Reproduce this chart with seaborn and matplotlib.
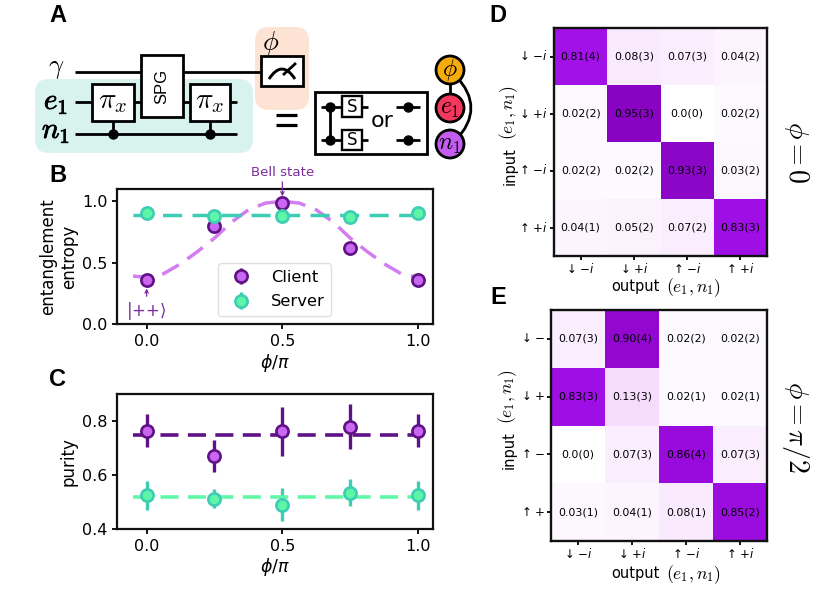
import numpy as np
import pandas as pd
import seaborn as sns
import matplotlib
matplotlib.use("Agg")
import matplotlib.pyplot as plt
from matplotlib import patches as mp
from matplotlib import patheffects as pe
from matplotlib.path import Path
from matplotlib.colors import LinearSegmentedColormap

# ---------- data ----------
phi = [0.0, 0.25, 0.5, 0.75, 1.0]
entropy_client = [0.36, 0.80, 0.99, 0.62, 0.36]
entropy_client_err = [0.01, 0.01, 0.01, 0.01, 0.01]
entropy_server = [0.905, 0.88, 0.88, 0.875, 0.905]
entropy_server_err = [0.01, 0.01, 0.01, 0.01, 0.01]
fit_x = [-0.05, 0.0, 0.0625, 0.125, 0.1875, 0.25, 0.3125, 0.375, 0.4375, 0.5,
         0.5625, 0.625, 0.6875, 0.75, 0.8125, 0.875, 0.9375, 1.0]
fit_client = [0.39, 0.38, 0.41, 0.49, 0.59, 0.70, 0.83, 0.93, 0.985, 1.0,
              0.985, 0.93, 0.83, 0.70, 0.59, 0.49, 0.41, 0.38]
fit_server = [0.885] * 18

purity_client = [0.763, 0.67, 0.76, 0.778, 0.763]
purity_client_err = [0.062, 0.06, 0.089, 0.084, 0.062]
purity_server = [0.524, 0.512, 0.49, 0.534, 0.524]
purity_server_err = [0.054, 0.036, 0.06, 0.05, 0.054]
purity_fit_x = [-0.05, 1.0]
purity_fit_client = [0.747, 0.747]
purity_fit_server = [0.517, 0.517]

out_ticks = ["↓ $-i$", "↓ $+i$", "↑ $-i$", "↑ $+i$"]
d_in_ticks = ["↓ $-i$", "↓ $+i$", "↑ $-i$", "↑ $+i$"]
e_in_ticks = ["↓ $-$", "↓ $+$", "↑ $-$", "↑ $+$"]
d_values = [[0.81, 0.08, 0.07, 0.04],
            [0.02, 0.95, 0.00, 0.02],
            [0.02, 0.02, 0.93, 0.03],
            [0.04, 0.05, 0.07, 0.83]]
d_labels = [["0.81(4)", "0.08(3)", "0.07(3)", "0.04(2)"],
            ["0.02(2)", "0.95(3)", "0.0(0)", "0.02(2)"],
            ["0.02(2)", "0.02(2)", "0.93(3)", "0.03(2)"],
            ["0.04(1)", "0.05(2)", "0.07(2)", "0.83(3)"]]
e_values = [[0.07, 0.90, 0.02, 0.02],
            [0.83, 0.13, 0.02, 0.02],
            [0.00, 0.07, 0.86, 0.07],
            [0.03, 0.04, 0.08, 0.85]]
e_labels = [["0.07(3)", "0.90(4)", "0.02(2)", "0.02(2)"],
            ["0.83(3)", "0.13(3)", "0.02(1)", "0.02(1)"],
            ["0.0(0)", "0.07(3)", "0.86(4)", "0.07(3)"],
            ["0.03(1)", "0.04(1)", "0.08(1)", "0.85(2)"]]

# ---------- style ----------
sns.set_style("ticks")
plt.rcParams.update({"font.family": ["DejaVu Sans"], "axes.linewidth": 1.6,
                     "xtick.major.width": 1.3, "ytick.major.width": 1.3,
                     "xtick.major.size": 3.5, "ytick.major.size": 3.5,
                     "xtick.color": "black", "ytick.color": "black",
                     "axes.edgecolor": "#111111", "text.color": "black",
                     "axes.labelcolor": "black"})
W, H = 831, 591
fig = plt.figure(figsize=(W / 100, H / 100), dpi=100)

C_FACE, C_EDGE, C_LINE = "#C966F2", "#5F1185", "#D27DF0"
S_FACE, S_EDGE, S_LINE = "#5FF5A6", "#3CCDB4", "#62F8A8"
PURPLE = "#7B2D9E"


def place(left, top, right, bottom, **kw):
    return fig.add_axes([left / W, 1 - bottom / H, (right - left) / W, (bottom - top) / H], **kw)


# ---------- schematic overlay (pixel coordinates) ----------
bg = fig.add_axes([0, 0, 1, 1], zorder=0)
bg.set_xlim(0, W)
bg.set_ylim(H, 0)
bg.axis("off")


def rbox(x0, y0, x1, y1, color, r=14):
    bg.add_patch(mp.FancyBboxPatch((x0 + r, y0 + r), x1 - x0 - 2 * r, y1 - y0 - 2 * r,
                                   boxstyle=f"round,pad={r},rounding_size={r}", fc=color, ec="none", zorder=1))


def line(xs, ys, lw=2.0, z=2):
    bg.plot(xs, ys, color="black", lw=lw, solid_capstyle="butt", zorder=z)


def box(x0, y0, x1, y1, lw=2.0, z=3):
    bg.add_patch(mp.Rectangle((x0, y0), x1 - x0, y1 - y0, fc="white", ec="black", lw=lw, zorder=z))


def dot(x, y, ms=7.5):
    bg.plot([x], [y], "o", color="black", ms=ms, mew=0, zorder=4)


def mtext(x, y, s, size=17, bold=False, **kw):
    t = bg.text(x, y, s, fontsize=size, ha="center", va="center", math_fontfamily="cm", zorder=6, **kw)
    if bold:
        t.set_path_effects([pe.withStroke(linewidth=0.6, foreground="black")])
    return t


rbox(35, 79, 253, 153, "#D8F3EE")
rbox(255, 27, 309, 110, "#FDE3D3")
line([75, 260], [71.5, 71.5])
line([75, 237], [102, 102])
line([75, 237], [133.5, 133.5])
for x0, x1 in [(92, 134), (190, 230)]:
    xc = (x0 + x1) / 2
    line([xc, xc], [121, 133.5])
    dot(xc, 133.5)
    box(x0, 84, x1, 121)
    mtext(xc, 101, r"$\pi_x$", 21)
box(141, 55, 183, 117)
bg.text(162, 86, "SPG", rotation=90, fontsize=12, family="Liberation Sans", ha="center", va="center", zorder=6)
box(261, 56, 303, 86)
bg.add_patch(mp.PathPatch(Path([(269, 79), (282, 59), (295, 79)], [Path.MOVETO, Path.CURVE3, Path.CURVE3]),
                          fc="none", ec="black", lw=2.1, zorder=5))
line([283, 296], [75, 63], z=5)
mtext(271, 43, r"$\phi$", 19)
mtext(56, 68, r"$\gamma$", 19)
mtext(56, 102, r"$e_1$", 21, bold=True)
mtext(56, 131, r"$n_1$", 21, bold=True)
line([276, 297], [114.5, 114.5], lw=2.3)
line([276, 297], [125, 125], lw=2.3)
box(315, 92, 427, 154, lw=2.0)
line([330, 330], [107, 140], z=4)
for y, (t, b) in zip([107, 140], [(96, 117), (130, 150)]):
    line([321, 368], [y, y], z=4)
    dot(330, y)
    box(342, t, 362, b, lw=1.7, z=5)
    bg.text(352, (t + b) / 2, "S", fontsize=12, ha="center", va="center", zorder=6)
    line([396, 420], [y, y], z=4)
    dot(408, y)
bg.text(382, 121, "or", fontsize=16, ha="center", va="center", zorder=6)
bg.add_patch(mp.PathPatch(Path([(455, 75), (487, 108), (455, 141)], [Path.MOVETO, Path.CURVE3, Path.CURVE3]),
                          fc="none", ec="black", lw=2.0, zorder=3))
line([450, 450], [70, 108], z=3)
for yc, col, lab in [(70, "#F8AC0C", r"$\phi$"), (108, "#F5375E", r"$e_1$"), (144, "#C45CF0", r"$n_1$")]:
    bg.add_patch(mp.Ellipse((450, yc), 28, 28, fc=col, ec="black", lw=2.0, zorder=4))
    mtext(450, yc, lab, 17)
for s, x, y in [("A", 58, 16), ("B", 58, 176), ("C", 58, 380), ("D", 498, 16), ("E", 498, 297)]:
    bg.text(x, y, s, fontsize=17, fontweight="bold", family="Liberation Sans", ha="center", va="center", zorder=6)


# ---------- line panels ----------
def points(ax, y, yerr, face, edge, ecolor, z=5, label=None):
    return ax.errorbar(phi, y, yerr=yerr, fmt="o", ms=8.8, mfc=face, mec=edge, mew=1.9, ecolor=ecolor,
                       elinewidth=2.4, capsize=0, zorder=z, label=label)


axb = place(117.3, 189, 433.3, 324)
sns.lineplot(x=fit_x, y=fit_client, ax=axb, color=C_LINE, lw=2.5, linestyle=(0, (5.5, 3)), errorbar=None, zorder=2)
sns.lineplot(x=fit_x, y=fit_server, ax=axb, color=S_EDGE, lw=2.5, linestyle=(0, (5.5, 3)), errorbar=None, zorder=3)
h1 = points(axb, entropy_client, entropy_client_err, C_FACE, C_EDGE, C_EDGE, 5, "Client")
h2 = points(axb, entropy_server, entropy_server_err, S_FACE, S_EDGE, S_EDGE, 6, "Server")
axb.set_xlim(-0.108, 1.056)
axb.set_ylim(0, 1.1)
axb.set_yticks([0, 0.5, 1.0])
axb.set_xticks([0, 0.5, 1.0])
axb.tick_params(labelsize=11.5)
axb.set_xlabel(r"$\phi/\pi$", fontsize=12.5, labelpad=2)
axb.set_ylabel("entanglement\nentropy", fontsize=12, labelpad=3, linespacing=1.2)
leg = axb.legend(handles=[h1, h2], loc="lower left", bbox_to_anchor=(0.318, 0.06), borderaxespad=0, fontsize=11.8,
                 frameon=True, framealpha=0.85, edgecolor="#D5DEDC", fancybox=True, handletextpad=0.85,
                 labelspacing=0.6, borderpad=0.4)
leg.set_zorder(4)
axb.annotate("Bell state", xy=(0.5, 1.04), xytext=(0.5, 1.185), color=PURPLE, fontsize=9.6, ha="center", va="bottom",
             annotation_clip=False, arrowprops=dict(arrowstyle="->", color=PURPLE, lw=0.9, shrinkA=0, shrinkB=0,
                                                    mutation_scale=6))
axb.annotate(r"$|{+}{+}\rangle$", xy=(0.0, 0.29), xytext=(0.0, 0.02), color=PURPLE, fontsize=12, ha="center",
             va="bottom", math_fontfamily="dejavusans",
             arrowprops=dict(arrowstyle="->", color=PURPLE, lw=0.9, shrinkA=0, shrinkB=0, mutation_scale=6))

axc = place(117.3, 394, 433.3, 529)
sns.lineplot(x=purity_fit_x, y=purity_fit_client, ax=axc, color=C_EDGE, lw=2.6, linestyle=(0, (5, 2.6)),
             errorbar=None, zorder=4)
sns.lineplot(x=purity_fit_x, y=purity_fit_server, ax=axc, color=S_LINE, lw=2.6, linestyle=(0, (5, 2.6)),
             errorbar=None, zorder=4)
points(axc, purity_client, purity_client_err, C_FACE, C_EDGE, C_EDGE, 3)
points(axc, purity_server, purity_server_err, S_FACE, S_EDGE, S_EDGE, 3)
for art in axc.lines:
    if art.get_marker() == "o":
        art.set_zorder(5)
axc.set_xlim(-0.108, 1.056)
axc.set_ylim(0.4, 0.898)
axc.set_yticks([0.4, 0.6, 0.8])
axc.set_xticks([0, 0.5, 1.0])
axc.tick_params(labelsize=11.5)
axc.set_xlabel(r"$\phi/\pi$", fontsize=12.5, labelpad=2)
axc.set_ylabel("purity", fontsize=12, labelpad=3)

# ---------- heatmaps ----------
cmap = LinearSegmentedColormap.from_list("wp", [(0, "#FFFFFF"), (0.13, "#F5DCFC"), (0.82, "#A10FE8"), (1, "#7F00B5")])


def heat(ax, values, labels, yticks):
    sns.heatmap(np.array(values), ax=ax, cmap=cmap, vmin=0, vmax=1, cbar=False, annot=np.array(labels), fmt="",
                annot_kws={"fontsize": 7.9, "color": "black"}, xticklabels=out_ticks, yticklabels=yticks)
    for s in ax.spines.values():
        s.set_visible(True)
        s.set_linewidth(1.7)
    ax.tick_params(axis="both", labelsize=8.5, length=3, width=1.3, pad=1.5, rotation=0)
    ax.set_xlabel("")
    ax.set_ylabel("")


heat(place(554, 28, 767, 256), d_values, d_labels, d_in_ticks)
heat(place(551, 310, 767, 541), e_values, e_labels, e_in_ticks)

for yl in (286.5, 573.5):
    bg.text(611, yl, "output", fontsize=10.5, ha="left", va="center")
    bg.text(666, yl + 1, r"$(e_1, n_1)$", fontsize=12.6, math_fontfamily="cm", ha="left", va="center")
for xl, yin, ymath in [(510, 166, 113), (509, 450, 397)]:
    bg.text(xl, yin, "input", fontsize=10.5, rotation=90, ha="center", va="center")
    bg.text(xl - 1, ymath, r"$(e_1, n_1)$", fontsize=12.6, rotation=90, math_fontfamily="cm", ha="center", va="center")

bg.text(797, 152, r"$\phi = 0$", rotation=270, fontsize=20, math_fontfamily="cm", ha="center", va="center")
bg.text(796, 427, r"$\phi = \pi/2$", rotation=270, fontsize=20, math_fontfamily="cm", ha="center", va="center")

fig.savefig("out.png", dpi=100)
